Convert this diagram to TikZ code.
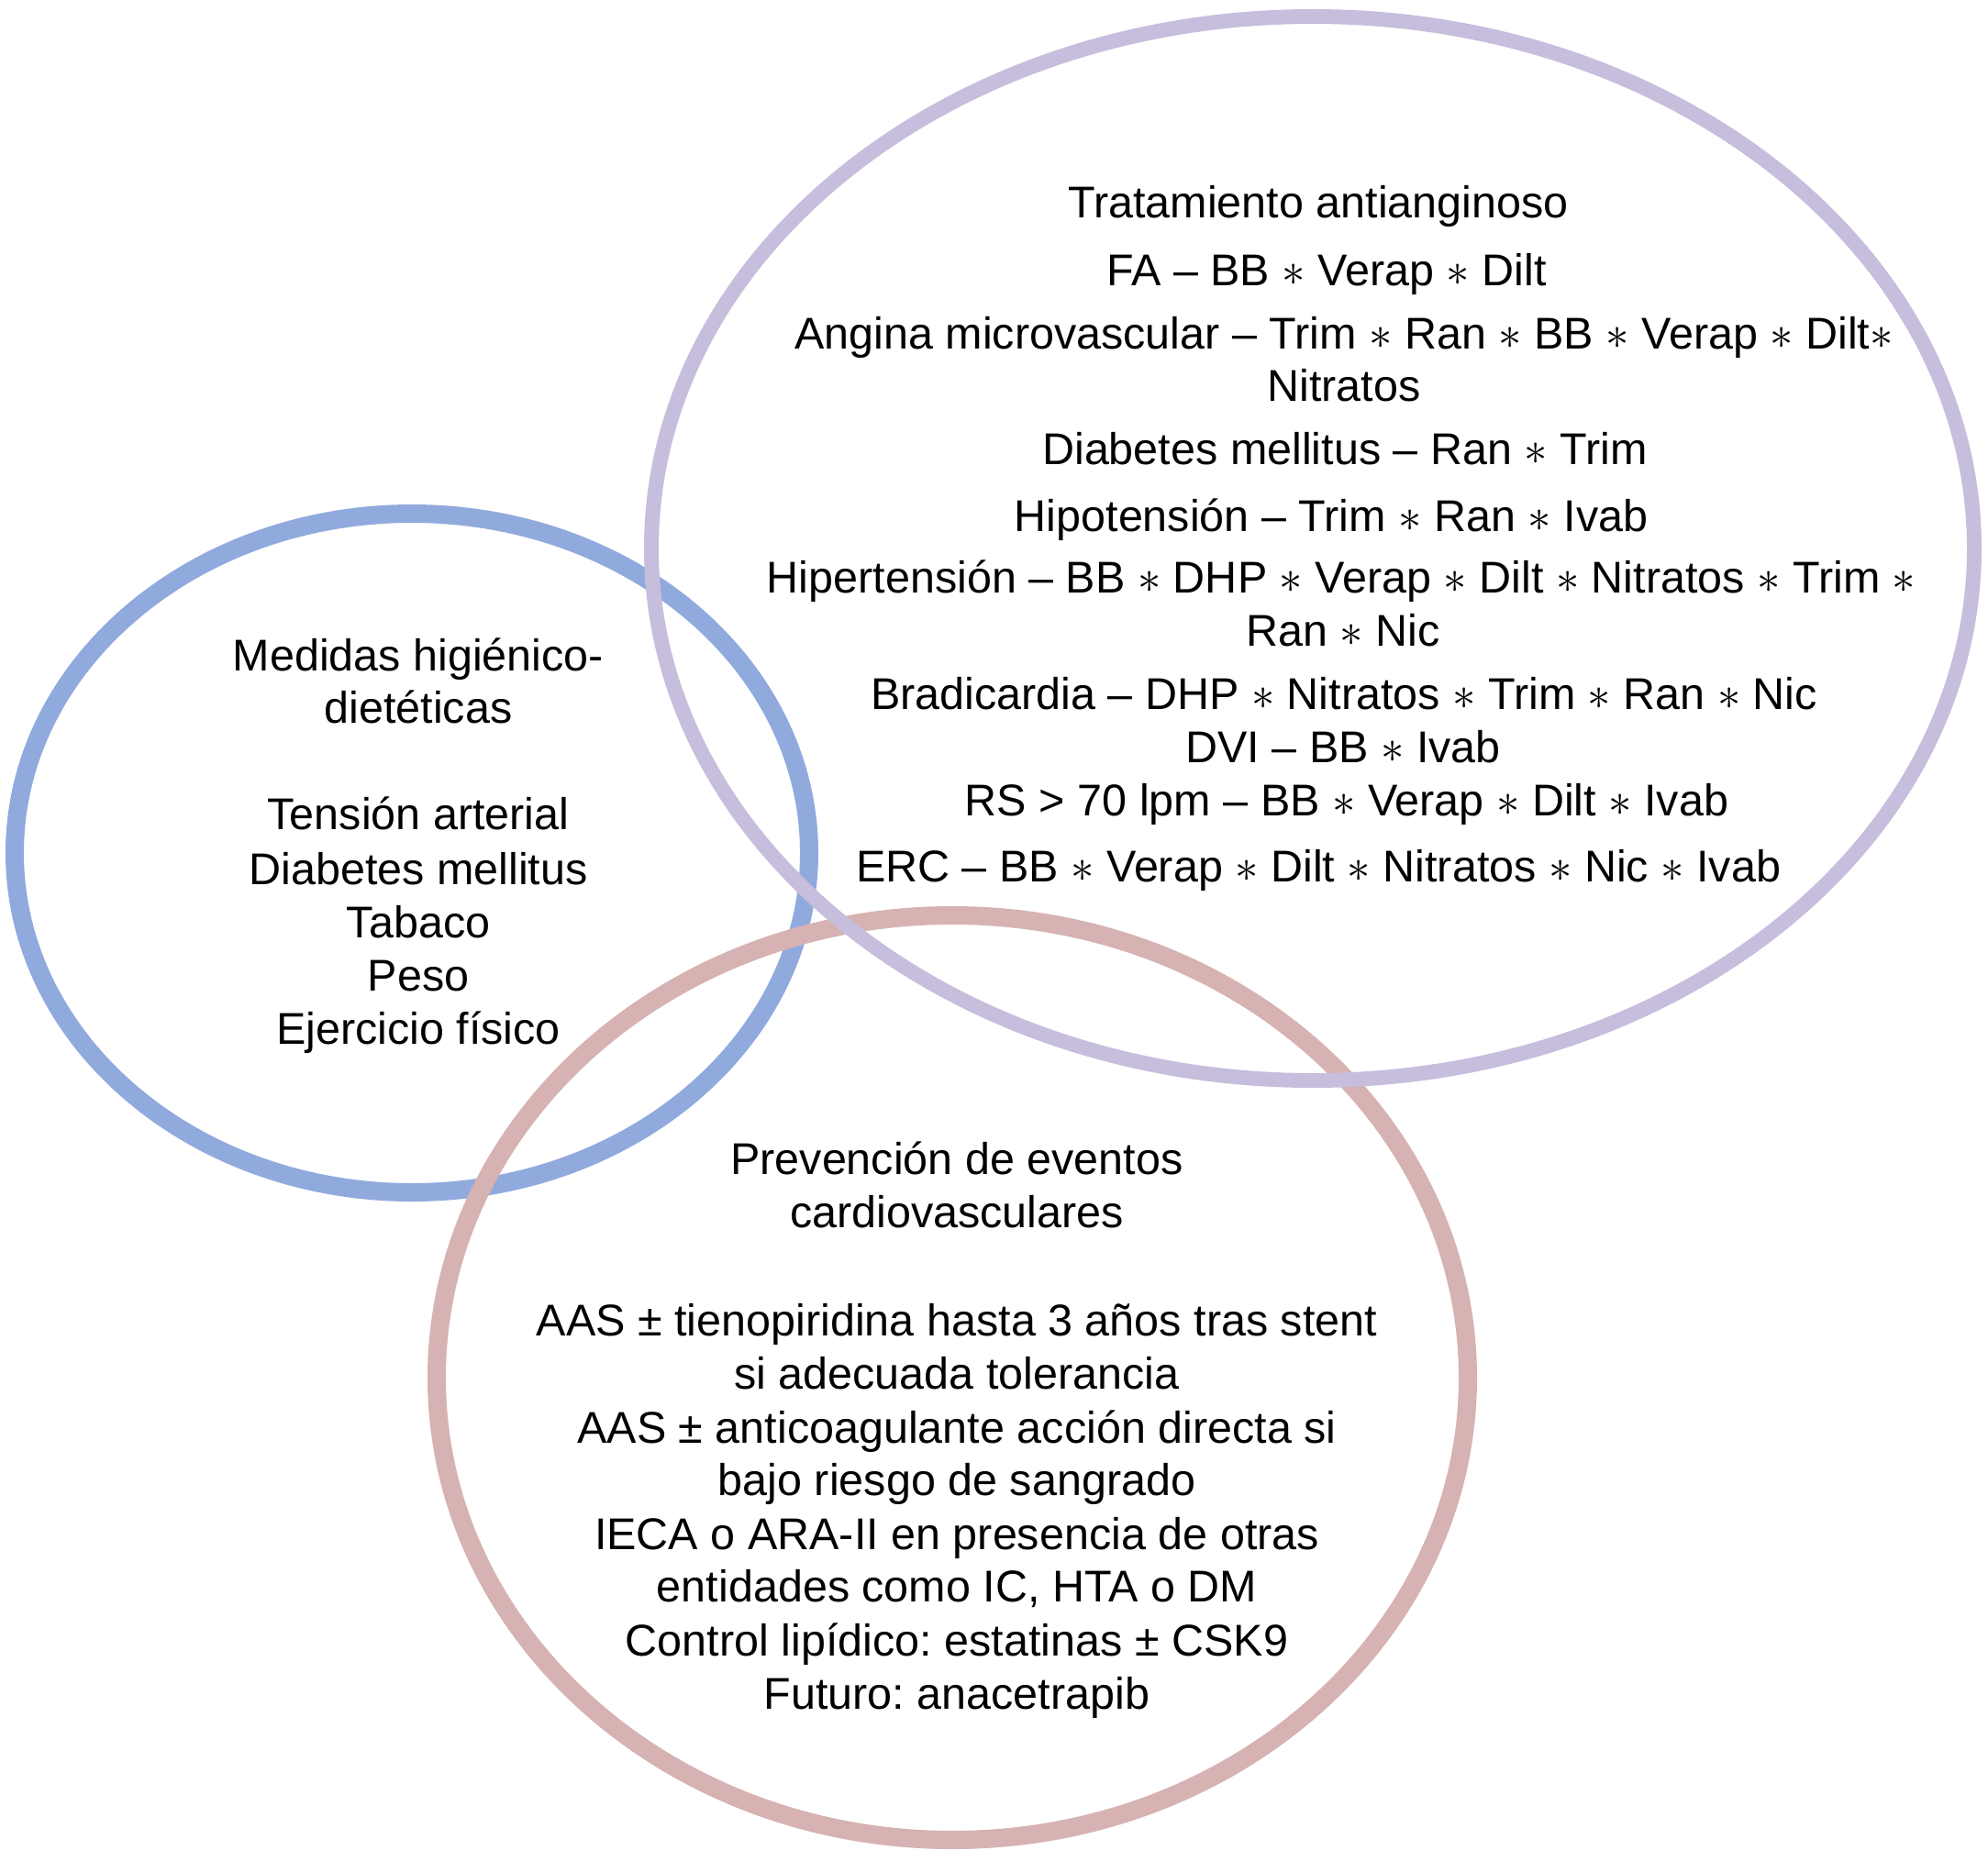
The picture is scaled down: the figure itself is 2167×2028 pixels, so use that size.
\documentclass[tikz,border=0pt]{standalone}
\usepackage{fontspec}
\setmainfont{Liberation Sans}
\frenchspacing
\definecolor{ringblue}{HTML}{91AADD}
\definecolor{ringpurple}{HTML}{C6BEDC}
\definecolor{ringpink}{HTML}{D6B2B2}
\newcommand{\as}{\space$\ast$\space}
\begin{document}
\begin{tikzpicture}[x=0.1mm,y=-0.1mm,
  ringline/.style={line width=#1},
  txt/.style={anchor=base,font=\fontsize{13.8}{16}\selectfont,inner sep=0pt}]
\useasboundingbox (0,0) rectangle (2167,2028);
% rings
\draw[ringline=2.0mm,ringblue] (449,930) ellipse [x radius=433,y radius=370];
\draw[ringline=2.0mm,ringpink] (1038,1502) ellipse [x radius=562,y radius=504];
\draw[ringline=1.6mm,ringpurple] (1431,598) ellipse [x radius=721,y radius=580];
% purple text
\node[txt] (p1) at (1437,238) {Tratamiento antianginoso};
\node[txt] (p2) at (1446,311) {FA – BB\as Verap\as Dilt};
\node[txt] (p3) at (1465,380) {Angina microvascular – Trim\as Ran\as BB\as Verap\as Dilt$\ast$};
\node[txt] (p4) at (1465,437) {Nitratos};
\node[txt] (p5) at (1466,506) {Diabetes mellitus – Ran\as Trim};
\node[txt] (p6) at (1451,579) {Hipotensión – Trim\as Ran\as Ivab};
\node[txt] (p7) at (1462,646) {Hipertensión – BB\as DHP\as Verap\as Dilt\as Nitratos\as Trim\as};
\node[txt] (p8) at (1464,704) {Ran\as Nic};
\node[txt] (p9) at (1465,773) {Bradicardia – DHP\as Nitratos\as Trim\as Ran\as Nic};
\node[txt] (p10) at (1464,831) {DVI – BB\as Ivab};
\node[txt] (p11) at (1468,889) {RS > 70 lpm – BB\as Verap\as Dilt\as Ivab};
\node[txt] (p12) at (1437,961) {ERC – BB\as Verap\as Dilt\as Nitratos\as Nic\as Ivab};
% blue text
\node[txt] (b1) at (456,731) {Medidas higiénico-};
\node[txt] (b2) at (456,788) {dietéticas};
\node[txt] (b3) at (456,904) {Tensión arterial};
\node[txt] (b4) at (456,964) {Diabetes mellitus};
\node[txt] (b5) at (456,1022) {Tabaco};
\node[txt] (b6) at (456,1080) {Peso};
\node[txt] (b7) at (456,1138) {Ejercicio físico};
% pink text
\node[txt] (r1) at (1043,1280) {Prevención de eventos};
\node[txt] (r2) at (1043,1338) {cardiovasculares};
\node[txt] (r3) at (1043,1456) {AAS ± tienopiridina hasta 3 años tras stent};
\node[txt] (r4) at (1043,1514) {si adecuada tolerancia};
\node[txt] (r5) at (1043,1573) {AAS ± anticoagulante acción directa si};
\node[txt] (r6) at (1043,1630) {bajo riesgo de sangrado};
\node[txt] (r7) at (1043,1689) {IECA o ARA-II en presencia de otras};
\node[txt] (r8) at (1043,1746) {entidades como IC, HTA o DM};
\node[txt] (r9) at (1043,1805) {Control lipídico: estatinas ± CSK9};
\node[txt] (r10) at (1043,1863) {Futuro: anacetrapib};
\end{tikzpicture}
\end{document}
